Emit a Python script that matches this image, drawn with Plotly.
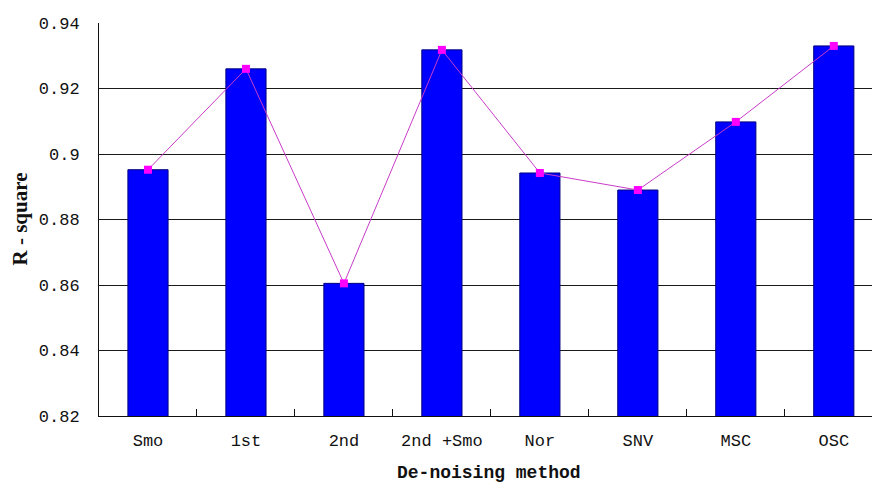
import plotly.graph_objects as go

# R-square of the calibration model for each de-noising method
methods = ["Smo", "1st", "2nd", "2nd +Smo", "Nor", "SNV", "MSC", "OSC"]
r_square = [0.8952, 0.926, 0.8605, 0.9318, 0.8942, 0.889, 0.9098, 0.933]
y_ticks = [0.82, 0.84, 0.86, 0.88, 0.90, 0.92, 0.94]
y_tick_text = ["0.82", "0.84", "0.86", "0.88", "0.9", "0.92", "0.94"]

W, H = 872, 486
ML, MR, MT, MB = 99, 0, 23, 70

fig = go.Figure()
fig.add_trace(go.Bar(
    x=methods, y=r_square, width=0.41,
    marker=dict(color="#0000ff", line=dict(color="#000080", width=1)),
    hoverinfo="x+y",
))
fig.add_trace(go.Scatter(
    x=methods, y=r_square, mode="lines+markers",
    line=dict(color="#c83cc8", width=1),
    marker=dict(symbol="square", size=8, color="#ff00ff"),
))

tick_font = dict(family="Liberation Mono", size=17, color="#111111")

fig.update_layout(
    width=W, height=H,
    margin=dict(l=ML, r=MR, t=MT, b=MB, pad=0),
    plot_bgcolor="white", paper_bgcolor="white",
    showlegend=False,
    bargap=0.59,
    xaxis=dict(
        type="category", range=[-0.5, 7.39],
        showline=True, linecolor="#111111", linewidth=1,
        ticks="inside", tickson="boundaries", ticklen=7, tickcolor="#111111",
        showgrid=False, tickfont=tick_font, ticklabelstandoff=9,
    ),
    yaxis=dict(
        range=[0.82, 0.94], tickvals=y_ticks, ticktext=y_tick_text,
        showline=True, linecolor="#111111", linewidth=1,
        showgrid=True, gridcolor="#1a1a1a", gridwidth=1,
        ticks="", tickfont=tick_font, ticklabelstandoff=15,
        zeroline=False,
    ),
    annotations=[
        dict(text="<b>R - square</b>", xref="paper", yref="paper",
             x=(19 - ML) / (W - ML - MR), y=0.5, xanchor="center", yanchor="middle",
             textangle=-90, showarrow=False,
             font=dict(family="Liberation Serif", size=21, color="#111111")),
        dict(text="<b>De-noising method</b>", xref="paper", yref="paper",
             x=(489 - ML) / (W - ML - MR), y=-(473 - (H - MB)) / (H - MT - MB),
             xanchor="center", yanchor="middle", showarrow=False,
             font=dict(family="Liberation Mono", size=18, color="#111111")),
    ],
)

fig.write_html("out.html")
